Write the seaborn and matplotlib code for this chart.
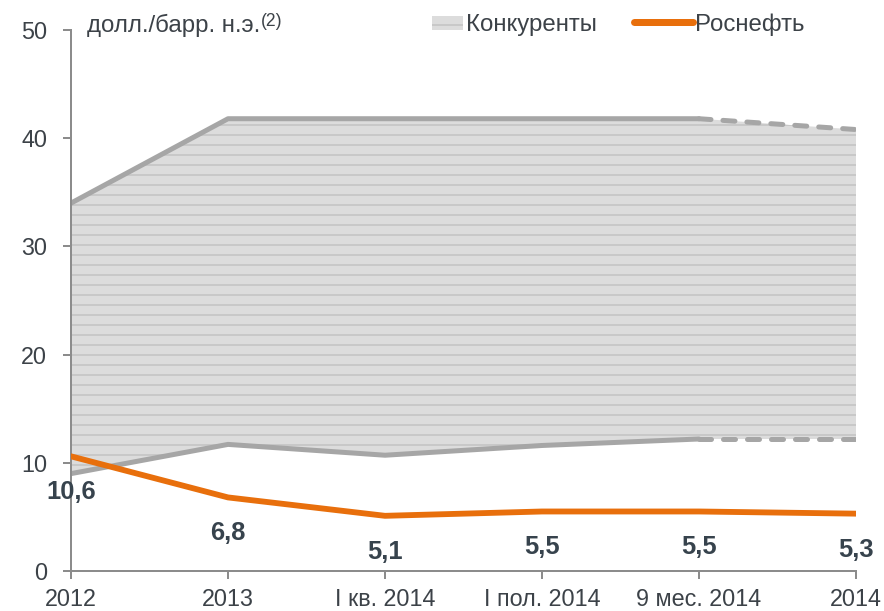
import numpy as np
import pandas as pd
import matplotlib
matplotlib.use("Agg")
import matplotlib.pyplot as plt
import seaborn as sns
from matplotlib.patches import Rectangle
from matplotlib.lines import Line2D
from matplotlib.legend_handler import HandlerPatch

# ---- data ----
categories = ['2012', '2013', 'I кв. 2014', 'I пол. 2014', '9 мес. 2014', '2014']
rosneft = [10.6, 6.8, 5.1, 5.5, 5.5, 5.3]
comp_high = [34.0, 41.8, 41.8, 41.8, 41.8, 40.8]
comp_low = [9.0, 11.7, 10.7, 11.6, 12.2, 12.2]
value_labels = ['10,6', '6,8', '5,1', '5,5', '5,5', '5,3']
yticks = [0, 10, 20, 30, 40, 50]
n_solid = 5  # competitors' last segment is dashed

GREY = '#a6a6a6'
ORANGE = '#e86f0c'
FILL = '#dcdcdc'
HATCH = '#b5b5b5'
SPINE = '#8c8c8c'
TXT = '#3c4248'
LAB = '#37434d'

sns.set_theme(style='white')
plt.rcParams['font.family'] = ['Liberation Sans', 'DejaVu Sans']
plt.rcParams['hatch.linewidth'] = 0.6

DPI = 120
fig = plt.figure(figsize=(884 / DPI, 611 / DPI), dpi=DPI)
ax = fig.add_axes([71 / 884, 1 - 571 / 611, (856 - 71) / 884, (571 - 30) / 611])

x = np.arange(len(categories))
df = pd.DataFrame({'x': x, 'rosneft': rosneft, 'high': comp_high, 'low': comp_low})

ax.fill_between(df['x'], df['low'], df['high'], facecolor=FILL, edgecolor=HATCH,
                hatch='--', linewidth=0, zorder=1)

for col in ['high', 'low']:
    sns.lineplot(data=df.iloc[:n_solid], x='x', y=col, color=GREY, linewidth=3,
                 ax=ax, solid_joinstyle='round', zorder=2)
    sns.lineplot(data=df.iloc[n_solid - 1:], x='x', y=col, color=GREY, linewidth=3,
                 ax=ax, zorder=2)
    ln = ax.lines[-1]
    ln.set_linestyle((0, (2.4, 2.4)))
    ln.set_dash_capstyle('round')

sns.lineplot(data=df, x='x', y='rosneft', color=ORANGE, linewidth=3.5, ax=ax,
             solid_joinstyle='round', zorder=3)

for xi, v, lab in zip(x, rosneft, value_labels):
    ax.annotate(lab, (xi, v), xytext=(0, -21.6), textcoords='offset points',
                ha='center', va='center', fontsize=15.3, fontweight='bold', color=LAB)

ax.set_xlim(0, len(categories) - 1)
ax.set_ylim(0, 50)
ax.set_xticks(x)
ax.set_xticklabels(categories)
ax.set_yticks(yticks)
ax.set_xlabel('')
ax.set_ylabel('')
for s in ['top', 'right']:
    ax.spines[s].set_visible(False)
for s in ['left', 'bottom']:
    ax.spines[s].set_color(SPINE)
    ax.spines[s].set_linewidth(1.2)
ax.tick_params(axis='both', bottom=True, left=True, direction='out', length=4.8,
               width=1.2, color=SPINE, labelsize=14, labelcolor=TXT)
ax.tick_params(axis='y', pad=9.6)
ax.tick_params(axis='x', pad=5.7)

t = fig.text(87 / 884, 1 - 25 / 611, 'долл./барр. н.э.', fontsize=14.4,
             ha='left', va='center', color=TXT)
ax.annotate('(2)', xy=(1, 1), xycoords=t, xytext=(0.5, 0), textcoords='offset points',
            ha='left', va='top', fontsize=10.5, color=TXT)


def small_patch(legend, orig_handle, xdescent, ydescent, width, height, fontsize):
    w = width * 0.53
    return Rectangle((-xdescent + width - w, -ydescent + height * 0.05), w, height * 0.8)


handles = [Rectangle((0, 0), 1, 1, facecolor=FILL, edgecolor=HATCH, hatch='--', linewidth=0),
           Line2D([], [], color=ORANGE, linewidth=4.2, solid_capstyle='round')]
fig.legend(handles, ['Конкуренты', 'Роснефть'], loc='upper left',
           bbox_to_anchor=(404 / 884, 1 - 13 / 611), bbox_transform=fig.transFigure,
           ncol=2, frameon=False, fontsize=14.4, labelcolor=TXT, handlelength=2.45,
           handletextpad=0.12, columnspacing=1.55, borderpad=0, borderaxespad=0,
           handler_map={Rectangle: HandlerPatch(patch_func=small_patch)})

fig.savefig('out.png', dpi=DPI)
